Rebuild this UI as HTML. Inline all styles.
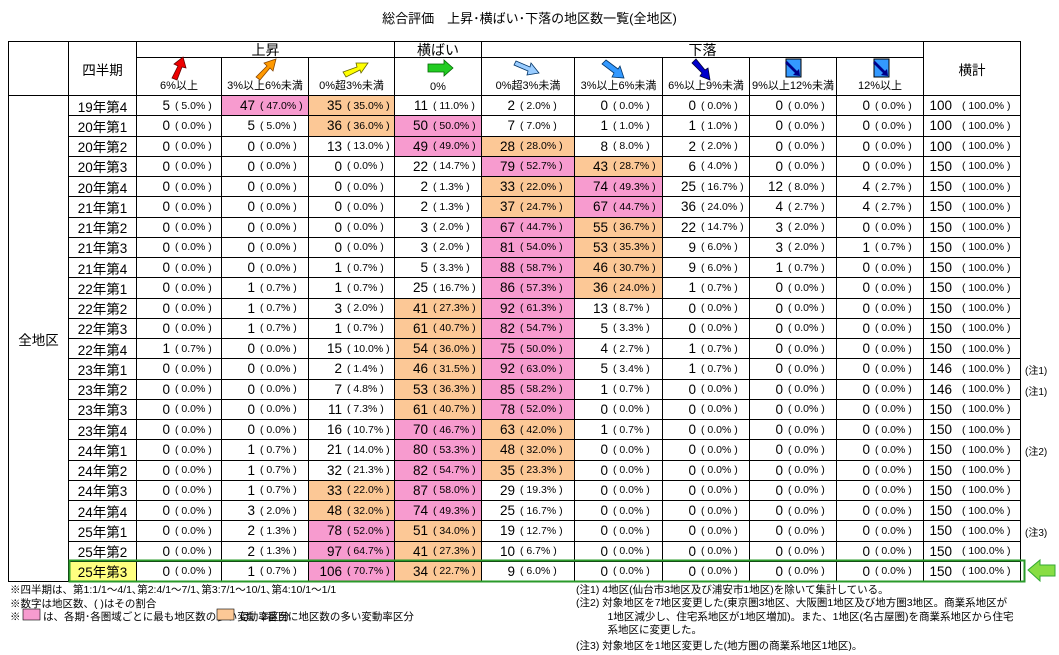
<!DOCTYPE html>
<html><head><meta charset="utf-8">
<style>
body{margin:0;width:1059px;height:655px;background:#fff;position:relative;overflow:hidden;font-family:"Liberation Sans","Noto Sans CJK JP",sans-serif;color:#000}
.a{position:absolute;box-sizing:border-box}
.c{position:absolute;box-sizing:border-box;border-right:1px solid #000;border-bottom:1px solid #000;display:flex;align-items:center;white-space:nowrap}
.n{display:inline-block;width:33px;text-align:right;font-size:13.5px}
.p{display:inline-block;font-size:10.5px;margin-left:5px}
.h{justify-content:center;font-size:11px}
.note{position:absolute;font-size:10.5px;white-space:nowrap}
</style></head><body>
<div class="a" style="left:0;width:1059px;top:8px;text-align:center;font-size:13px">総合評価　上昇･横ばい･下落の地区数一覧(全地区)</div>
<svg class="a" style="left:0;top:0;z-index:2" width="1059" height="655">
 <g><polygon points="172,78 178,66 174,64 183,57 186,68 182,67 177,80" fill="#e00" stroke="#600" stroke-width="0.8"/></g>
 <g><polygon points="256,77 267,66 264,63 276,59 273,71 270,68 260,80" fill="#f90" stroke="#840" stroke-width="0.8"/></g>
 <g><polygon points="343,72 357,67 356,63 368,63 361,73 360,70 346,77" fill="#ff0" stroke="#660" stroke-width="0.8"/></g>
 <g><polygon points="428,64 444,64 444,60 453,68 444,76 444,72 428,72" fill="#2c2" stroke="#060" stroke-width="0.8"/></g>
 <g><polygon points="516,61 530,67 531,63 539,73 527,75 528,71 514,65" fill="#9cf" stroke="#036" stroke-width="0.8"/></g>
 <g><polygon points="606,60 618,69 620,66 624,78 612,77 614,73 602,64" fill="#39f" stroke="#036" stroke-width="0.8"/></g>
 <g><polygon points="696,59 705,70 708,68 710,80 700,76 702,73 692,63" fill="#00c" stroke="#003" stroke-width="0.8"/></g>
 <g><rect x="786" y="59" width="15" height="18" fill="#39f" stroke="#000"/><polygon points="787,61 797,71 799,69 800,76 793,75 795,73 785,63" fill="#008"/></g>
 <g><rect x="874" y="59" width="15" height="18" fill="#39f" stroke="#000"/><polygon points="875,61 885,71 887,69 888,76 881,75 883,73 873,63" fill="#008"/></g>
 <rect x="69.5" y="560.5" width="955" height="21" fill="none" stroke="#2a9a2a" stroke-width="2"/>
 <polygon points="1028,570 1040,560 1040,565 1055,565 1055,576 1040,576 1040,581" fill="#8d4" stroke="#3a3" stroke-width="1"/>
 <rect x="23" y="609" width="17" height="11" fill="#f79bcf" stroke="#000" stroke-width="0.6"/>
 <rect x="217" y="609" width="17" height="11" fill="#fcc896" stroke="#000" stroke-width="0.6"/>
</svg>
<div id="tbl"></div>
<div class="note" style="left:10px;top:582px">※四半期は、第1:1/1～4/1､第2:4/1～7/1､第3:7/1～10/1､第4:10/1～1/1</div>
<div class="note" style="left:10px;top:596px">※数字は地区数、( )はその割合</div>
<div class="note" style="left:10px;top:609px">※</div>
<div class="note" style="left:43px;top:609px">は、各期･各圏域ごとに最も地区数の多い変動率区分</div>
<div class="note" style="left:240px;top:609px">は、2番目に地区数の多い変動率区分</div>
<div class="note" style="left:576px;top:582px">(注1) 4地区(仙台市3地区及び浦安市1地区)を除いて集計している。</div>
<div class="note" style="left:576px;top:597px;line-height:13.5px">(注2) 対象地区を7地区変更した(東京圏3地区、大阪圏1地区及び地方圏3地区。商業系地区が<br>　　　1地区減少し、住宅系地区が1地区増加)。また、1地区(名古屋圏)を商業系地区から住宅<br>　　　系地区に変更した。</div>
<div class="note" style="left:576px;top:638px">(注3) 対象地区を1地区変更した(地方圏の商業系地区1地区)。</div>
<script>
const quarters=["19年第4","20年第1","20年第2","20年第3","20年第4","21年第1","21年第2","21年第3","21年第4","22年第1","22年第2","22年第3","22年第4","23年第1","23年第2","23年第3","23年第4","24年第1","24年第2","24年第3","24年第4","25年第1","25年第2","25年第3"];
const counts=[
[5,47,35,11,2,0,0,0,0],[0,5,36,50,7,1,1,0,0],[0,0,13,49,28,8,2,0,0],[0,0,0,22,79,43,6,0,0],
[0,0,0,2,33,74,25,12,4],[0,0,0,2,37,67,36,4,4],[0,0,0,3,67,55,22,3,0],[0,0,0,3,81,53,9,3,1],
[0,0,1,5,88,46,9,1,0],[0,1,1,25,86,36,1,0,0],[0,1,3,41,92,13,0,0,0],[0,1,1,61,82,5,0,0,0],
[1,0,15,54,75,4,1,0,0],[0,0,2,46,92,5,1,0,0],[0,0,7,53,85,1,0,0,0],[0,0,11,61,78,0,0,0,0],
[0,0,16,70,63,1,0,0,0],[0,1,21,80,48,0,0,0,0],[0,1,32,82,35,0,0,0,0],[0,1,33,87,29,0,0,0,0],
[0,3,48,74,25,0,0,0,0],[0,2,78,51,19,0,0,0,0],[0,2,97,41,10,0,0,0,0],[0,1,106,34,9,0,0,0,0]];
const shares=[
[5.0,47.0,35.0,11.0,2.0,0,0,0,0],[0,5.0,36.0,50.0,7.0,1.0,1.0,0,0],[0,0,13.0,49.0,28.0,8.0,2.0,0,0],[0,0,0,14.7,52.7,28.7,4.0,0,0],
[0,0,0,1.3,22.0,49.3,16.7,8.0,2.7],[0,0,0,1.3,24.7,44.7,24.0,2.7,2.7],[0,0,0,2.0,44.7,36.7,14.7,2.0,0],[0,0,0,2.0,54.0,35.3,6.0,2.0,0.7],
[0,0,0.7,3.3,58.7,30.7,6.0,0.7,0],[0,0.7,0.7,16.7,57.3,24.0,0.7,0,0],[0,0.7,2.0,27.3,61.3,8.7,0,0,0],[0,0.7,0.7,40.7,54.7,3.3,0,0,0],
[0.7,0,10.0,36.0,50.0,2.7,0.7,0,0],[0,0,1.4,31.5,63.0,3.4,0.7,0,0],[0,0,4.8,36.3,58.2,0.7,0,0,0],[0,0,7.3,40.7,52.0,0,0,0,0],
[0,0,10.7,46.7,42.0,0.7,0,0,0],[0,0.7,14.0,53.3,32.0,0,0,0,0],[0,0.7,21.3,54.7,23.3,0,0,0,0],[0,0.7,22.0,58.0,19.3,0,0,0,0],
[0,2.0,32.0,49.3,16.7,0,0,0,0],[0,1.3,52.0,34.0,12.7,0,0,0,0],[0,1.3,64.7,27.3,6.7,0,0,0,0],[0,0.7,70.7,22.7,6.0,0,0,0,0]];
const totals=[100,100,100,150,150,150,150,150,150,150,150,150,150,146,146,150,150,150,150,150,150,150,150,150];
const notes=["","","","","","","","","","","","","","(注1)","(注1)","","","(注2)","","","","(注3)","",""];
const rangeLabels=["6%以上","3%以上6%未満","0%超3%未満","0%","0%超3%未満","3%以上6%未満","6%以上9%未満","9%以上12%未満","12%以上"];

const X=[9,69,137,222,309,395,482,575,663,750,837,924,1021];
const TOP=42,R1=58,R3=96,RH=20.25;
const body=document.body;
function cell(l,t,w,h,html,cls,name,bg){
  const d=document.createElement('div');
  d.className='c '+(cls||'');
  d.style.left=l+'px';d.style.top=t+'px';d.style.width=w+'px';d.style.height=h+'px';
  if(bg)d.style.background=bg;
  d.innerHTML=html;
  
  
  body.appendChild(d);return d;
}
const ob=document.createElement('div');ob.className='a';
ob.style.cssText='left:'+(X[0]-1)+'px;top:'+(TOP-1)+'px;width:'+(X[12]-X[0]+1)+'px;height:'+(R3+RH*24-TOP+1)+'px;border-left:1px solid #000;border-top:1px solid #000';


body.appendChild(ob);
cell(X[0],TOP,X[1]-X[0],R3-TOP,'','h','corner-cell');
cell(X[1],TOP,X[2]-X[1],R3-TOP,'<span style="font-size:13.5px">四半期</span>','h','quarter-header');
cell(X[2],TOP,X[5]-X[2],R1-TOP,'<span style="font-size:14px">上昇</span>','h','rise-header');
cell(X[5],TOP,X[6]-X[5],R1-TOP,'<span style="font-size:14px">横ばい</span>','h','flat-header');
cell(X[6],TOP,X[11]-X[6],R1-TOP,'<span style="font-size:14px">下落</span>','h','fall-header');
cell(X[11],TOP,X[12]-X[11],R3-TOP,'<span style="font-size:13.5px">横計</span>','h','total-header');
for(let j=0;j<9;j++){
  const c=cell(X[j+2],R1,X[j+3]-X[j+2],R3-R1,rangeLabels[j],'h','range-header-'+(j+1));
  c.style.alignItems='flex-end';c.style.paddingBottom='2px';
}
cell(X[0],R3,X[1]-X[0],RH*24,'<span style="font-size:13.5px">全地区</span>','h','region-all');
function bgFor(i,j){
  const row=counts[i].slice().sort((a,b)=>b-a);
  if(counts[i][j]===row[0]&&row[0]>0)return '#f79bcf';
  if(counts[i][j]===row[1]&&row[1]>0)return '#fcc896';
  return '';
}
for(let i=0;i<quarters.length;i++){
  const t=R3+i*RH;
  const q=cell(X[1],t,X[2]-X[1],RH,'<span style="font-size:13.5px">'+quarters[i]+'</span>','h','quarter-'+quarters[i]);
  if(i===quarters.length-1)q.style.background='#ffff80';
  for(let j=0;j<9;j++){
    cell(X[j+2],t,X[j+3]-X[j+2],RH,'<span class="n">'+counts[i][j]+'</span><span class="p">(&nbsp;'+shares[i][j].toFixed(1)+'%&nbsp;)</span>','','value-'+(i+1)+'-'+(j+1),bgFor(i,j));
  }
  cell(X[11],t,X[12]-X[11],RH,'<span class="n" style="width:28px">'+totals[i]+'</span><span class="p" style="margin-left:10px">(&nbsp;100.0%&nbsp;)</span>','','total-'+(i+1));
  if(notes[i]){
    const n=document.createElement('div');n.className='note';
    n.style.left='1025px';n.style.top=(t+3)+'px';n.style.fontSize='10px';
    n.textContent=notes[i];
    
    
    body.appendChild(n);
  }
}
</script>
</body></html>
